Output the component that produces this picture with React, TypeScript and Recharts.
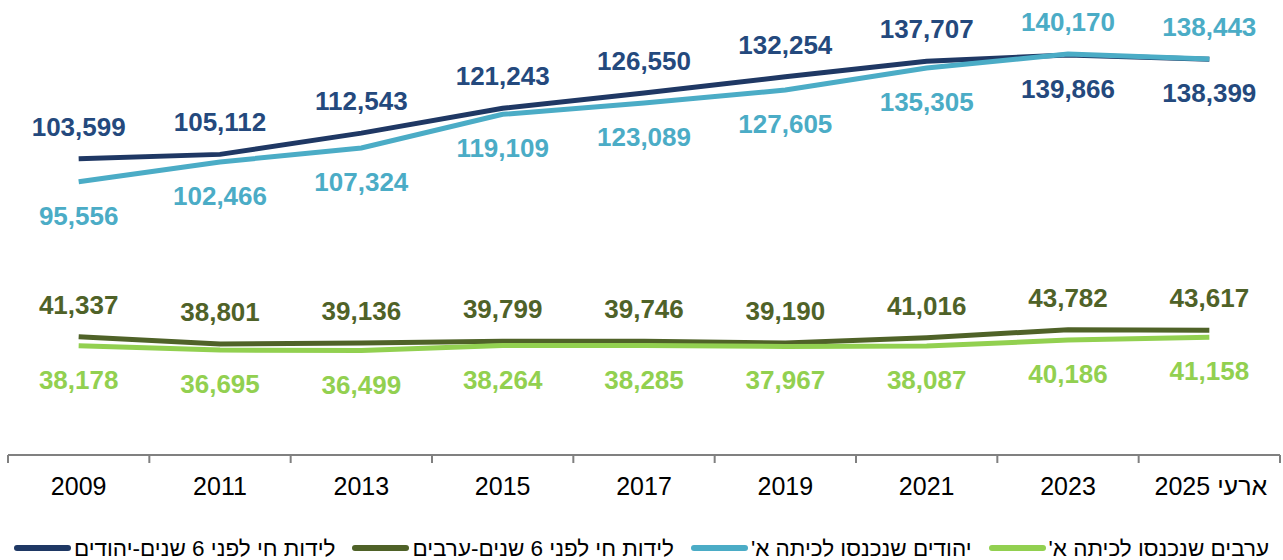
import React from "react";
import { LineChart, Line, XAxis, YAxis, LabelList } from "recharts";

// years on the axis (last one is provisional)
const years = ["2009", "2011", "2013", "2015", "2017", "2019", "2021", "2023", "2025 ארעי"];

// live births 6 years earlier - Jews
const jewsBirths = [103599, 105112, 112543, 121243, 126550, 132254, 137707, 139866, 138399];
// Jews entering first grade
const jewsFirstGrade = [95556, 102466, 107324, 119109, 123089, 127605, 135305, 140170, 138443];
// live births 6 years earlier - Arabs
const arabsBirths = [41337, 38801, 39136, 39799, 39746, 39190, 41016, 43782, 43617];
// Arabs entering first grade
const arabsFirstGrade = [38178, 36695, 36499, 38264, 38285, 37967, 38087, 40186, 41158];

const series = [
  { key: "jewsBirths", name: "לידות חי לפני 6 שנים-יהודים", color: "#1F3864", labelColor: "#24497D" },
  { key: "arabsBirths", name: "לידות חי לפני 6 שנים-ערבים", color: "#4F6228", labelColor: "#4F6228" },
  { key: "jewsFirstGrade", name: "יהודים שנכנסו לכיתה א'", color: "#4BACC6", labelColor: "#4BACC6" },
  { key: "arabsFirstGrade", name: "ערבים שנכנסו לכיתה א'", color: "#92D050", labelColor: "#92D050" },
];

const data = years.map((year, i) => ({
  year,
  jewsBirths: jewsBirths[i],
  jewsFirstGrade: jewsFirstGrade[i],
  arabsBirths: arabsBirths[i],
  arabsFirstGrade: arabsFirstGrade[i],
}));

const W = 1283;
const H = 560;
const margin = { top: 26, right: 3, left: 8, bottom: 24 };
const step = (W - margin.left - margin.right) / years.length;
const FONT = "Liberation Sans, Arial, sans-serif";

// which labels sit above the line
const isAbove = (key: string, i: number) => {
  if (key === "jewsBirths") return i < 7;
  if (key === "jewsFirstGrade") return i >= 7;
  if (key === "arabsBirths") return true;
  return false;
};

const makeLabel = (key: string, color: string) => (props: any) => {
  const { x, y, value, index } = props;
  const up = isAbove(key, index);
  return (
    <text
      x={x}
      y={up ? y - 23 : y + 43}
      textAnchor="middle"
      fill={color}
      fontSize={26}
      fontWeight="bold"
      fontFamily={FONT}
    >
      {Number(value).toLocaleString("en-US")}
    </text>
  );
};

const YearTick = (props: any) => {
  const { x, y, payload, index } = props;
  const fs = 25;
  const parts = String(payload.value).split(" ");
  let label;
  if (parts.length === 2) {
    // year on the left, Hebrew word on the right
    const num = parts.find(p => /^\d+$/.test(p)) || parts[0];
    const word = parts.find(p => p !== num) || parts[1];
    const w1 = num.length * 0.556 * fs;
    const w2 = word.length * 0.47 * fs;
    const sp = 0.28 * fs;
    const left = x - (w1 + sp + w2) / 2;
    label = (
      <g fill="#000" fontSize={fs} fontFamily={FONT}>
        <text x={left + w1} y={y + 32} textAnchor="end">{num}</text>
        <text x={left + w1 + sp} y={y + 32} textAnchor="start">{word}</text>
      </g>
    );
  } else {
    label = (
      <text x={x} y={y + 32} textAnchor="middle" fill="#000" fontSize={fs} fontFamily={FONT}>
        {payload.value}
      </text>
    );
  }
  return (
    <g>
      <line x1={x - step / 2} x2={x - step / 2} y1={y - 8} y2={y} stroke="#808080" strokeWidth={2} />
      {index === years.length - 1 && (
        <line x1={x + step / 2} x2={x + step / 2} y1={y - 8} y2={y} stroke="#808080" strokeWidth={2} />
      )}
      {label}
    </g>
  );
};

export default function App() {
  return (
    <div style={{ position: "absolute", left: 0, top: 0, width: W, height: H, background: "#fff", overflow: "hidden" }}>
      <LineChart width={W} height={H} data={data} margin={margin}>
        <XAxis
          dataKey="year"
          scale="band"
          interval={0}
          height={81}
          tickLine={false}
          axisLine={{ stroke: "#808080", strokeWidth: 2 }}
          tick={<YearTick />}
        />
        <YAxis hide domain={[0, 150000]} />
        {series.map(s => (
          <Line
            key={s.key}
            dataKey={s.key}
            name={s.name}
            stroke={s.color}
            strokeWidth={5}
            dot={false}
            activeDot={false}
            isAnimationActive={false}
          >
            <LabelList dataKey={s.key} content={makeLabel(s.key, s.labelColor)} />
          </Line>
        ))}
      </LineChart>
      <div
        style={{
          position: "absolute",
          top: H - 24,
          left: 0,
          width: W,
          height: 24,
          display: "flex",
          justifyContent: "center",
          alignItems: "center",
          gap: 17,
          fontFamily: FONT,
          fontSize: 22.5,
          color: "#000",
        }}
      >
        {series.map(s => (
          <div key={s.key} style={{ display: "flex", alignItems: "center", gap: 3 }}>
            <div style={{ width: 57, height: 6, borderRadius: 3, background: s.color }} />
            <span style={{ direction: "rtl", whiteSpace: "nowrap", position: "relative", top: 1 }}>{s.name}</span>
          </div>
        ))}
      </div>
    </div>
  );
}
